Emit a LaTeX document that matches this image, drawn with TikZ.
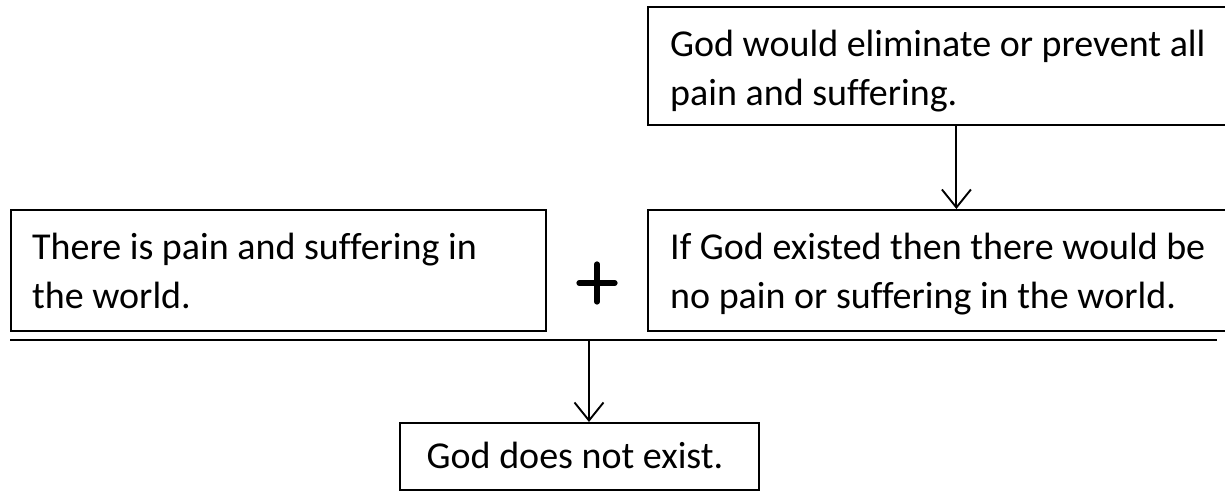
\documentclass[tikz,border=0pt]{standalone}
\usepackage{fontspec}
\setmainfont{Carlito}[Ligatures=NoCommon]
\usetikzlibrary{arrows.meta}
\begin{document}
\begin{tikzpicture}[x=1bp,y=-1bp,
  box/.style={draw=black, line width=1.8bp, inner sep=0pt, anchor=north west},
  txt/.style={inner sep=0pt, anchor=base west, font=\fontsize{38bp}{49bp}\selectfont},
  arr/.style={draw=black, line width=1.9bp, -{Straight Barb[length=18bp,width=29bp,line width=1.9bp]}},
  rule/.style={draw=black, line width=1.9bp},
  plusbar/.style={draw=black, line width=5.2bp, line cap=round}]
\useasboundingbox (0,0) rectangle (1225,491);
\node[box, minimum width=581bp, minimum height=118bp] (top) at (647,6) {};
\node[box, minimum width=535bp, minimum height=121bp] (left) at (10,209) {};
\node[box, minimum width=581bp, minimum height=121bp] (right) at (647,209) {};
\node[box, minimum width=359bp, minimum height=67bp] (bottom) at (399,422) {};
\node[txt] (t1) at (670,57) {God would eliminate or prevent all};
\node[txt] (t2) at (670,106) {pain and suffering.};
\node[txt] (l1) at (32,260) {There is pain and suffering in};
\node[txt] (l2) at (32,309) {the world.};
\node[txt] (r1) at (670,260) {If God existed then there would be};
\node[txt] (r2) at (670,309) {no pain or suffering in the world.};
\node[txt, anchor=base] (b1) at (575,468) {God does not exist.};
\coordinate (ruleL) at (10,340);
\coordinate (ruleR) at (1217,340);
\coordinate (ruleM) at (589,340);
\draw[rule] (ruleL) -- (ruleR);
\draw[arr] ([xshift=18bp]top.south) -- ([xshift=18bp]right.north);
\draw[arr] (ruleM) -- (ruleM |- bottom.north);
\coordinate (plusC) at (597,283);
\draw[plusbar] ([xshift=-18bp]plusC) -- ([xshift=18bp]plusC);
\draw[plusbar] ([yshift=-19bp]plusC) -- ([yshift=19bp]plusC);
\end{tikzpicture}
\end{document}
